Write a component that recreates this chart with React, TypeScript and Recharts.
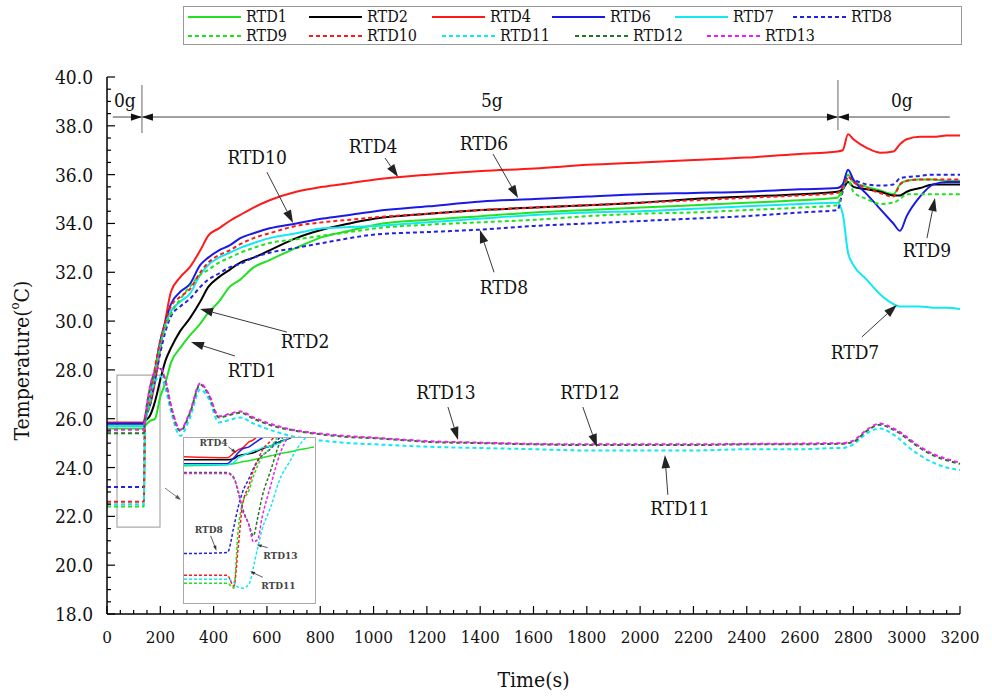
import React from 'react';
import {
  LineChart,
  Line,
  XAxis,
  YAxis,
  Legend,
  ReferenceLine,
  ReferenceDot,
  ReferenceArea,
  Label,
} from 'recharts';

const SERIF = "'DejaVu Serif Condensed', 'DejaVu Serif', serif";
const STRETCH = 'condensed';

// ---------------- main data ----------------
const time = [0, 138, 143, 160, 180, 200, 220, 240, 275, 310, 350, 380, 420, 460, 500, 550, 610, 710, 810, 910, 1007, 1206, 1405, 1604, 1803, 2002, 2201, 2400, 2600, 2740, 2760, 2780, 2800, 2850, 2900, 2950, 2975, 3000, 3050, 3100, 3150, 3200];

const rtd1 = [25.6, 25.6, 25.7, 25.9, 26.0, 26.9, 27.5, 28.3, 28.9, 29.4, 29.9, 30.35, 30.8, 31.4, 31.7, 32.2, 32.5, 33.0, 33.45, 33.7, 33.95, 34.15, 34.3, 34.45, 34.55, 34.65, 34.75, 34.85, 34.95, 35.05, 35.5, 36.0, 35.7, 35.5, 35.35, 35.2, 35.6, 35.75, 35.8, 35.8, 35.75, 35.75];
const rtd2 = [25.8, 25.8, 25.9, 26.1, 26.7, 27.6, 28.4, 28.9, 29.6, 30.1, 30.8, 31.4, 31.8, 32.1, 32.4, 32.6, 32.9, 33.4, 33.75, 34.0, 34.2, 34.4, 34.55, 34.65, 34.75, 34.85, 35.0, 35.1, 35.2, 35.3, 35.4, 35.7, 35.5, 35.4, 35.3, 35.15, 35.15, 35.3, 35.45, 35.6, 35.6, 35.6];
const rtd4 = [25.85, 25.85, 26.1, 26.5, 27.5, 28.9, 30.1, 31.2, 31.8, 32.2, 32.9, 33.5, 33.8, 34.1, 34.35, 34.65, 34.95, 35.3, 35.5, 35.65, 35.8, 36.0, 36.15, 36.25, 36.4, 36.5, 36.6, 36.7, 36.85, 36.95, 37.0, 37.65, 37.45, 37.1, 36.9, 36.95, 37.25, 37.45, 37.55, 37.55, 37.6, 37.6];
const rtd6 = [25.8, 25.8, 26.0, 26.7, 28.0, 29.2, 30.0, 30.7, 31.2, 31.5, 32.3, 32.6, 32.9, 33.1, 33.4, 33.6, 33.8, 34.0, 34.2, 34.35, 34.5, 34.7, 34.9, 35.0, 35.1, 35.2, 35.25, 35.3, 35.4, 35.45, 35.6, 36.2, 35.8, 35.2, 34.6, 34.0, 33.7, 34.3, 35.1, 35.6, 35.7, 35.7];
const rtd7 = [25.7, 25.7, 25.9, 26.6, 27.9, 29.0, 29.9, 30.4, 30.8, 31.1, 31.9, 32.3, 32.6, 32.8, 33.0, 33.2, 33.4, 33.6, 33.8, 33.85, 33.9, 34.05, 34.2, 34.35, 34.45, 34.5, 34.6, 34.7, 34.8, 34.85, 34.4, 32.8, 32.3, 31.7, 31.1, 30.7, 30.6, 30.6, 30.6, 30.55, 30.55, 30.5];
const rtd8 = [23.2, 23.2, 26.0, 26.5, 27.6, 28.7, 29.6, 30.2, 30.6, 30.9, 31.4, 31.7, 31.95, 32.2, 32.35, 32.6, 32.8, 33.0, 33.2, 33.4, 33.55, 33.65, 33.75, 33.9, 34.0, 34.1, 34.2, 34.3, 34.45, 34.55, 35.3, 35.9, 35.8, 35.6, 35.55, 35.6, 35.85, 35.9, 35.95, 36.0, 36.0, 36.0];
const rtd9 = [22.4, 22.4, 25.8, 26.6, 27.9, 29.0, 29.8, 30.3, 30.9, 31.4, 31.9, 32.1, 32.4, 32.6, 32.8, 33.0, 33.2, 33.35, 33.5, 33.65, 33.8, 33.95, 34.05, 34.15, 34.3, 34.4, 34.45, 34.55, 34.65, 34.75, 35.4, 35.8, 35.3, 35.0, 34.8, 34.85, 35.0, 35.2, 35.2, 35.2, 35.2, 35.2];
const rtd10 = [22.6, 22.6, 26.0, 26.8, 28.1, 29.2, 30.0, 30.6, 31.0, 31.3, 32.0, 32.4, 32.7, 32.9, 33.15, 33.4, 33.6, 33.9, 34.05, 34.15, 34.25, 34.4, 34.55, 34.65, 34.75, 34.85, 34.95, 35.05, 35.15, 35.25, 35.5, 35.9, 35.7, 35.45, 35.25, 35.1, 35.6, 35.75, 35.8, 35.8, 35.8, 35.8];
const rtd11 = [22.5, 22.5, 25.8, 26.9, 27.5, 27.75, 27.2, 26.3, 25.3, 26.0, 27.2, 26.85, 25.85, 25.95, 26.05, 25.8, 25.55, 25.25, 25.1, 25.0, 24.95, 24.85, 24.8, 24.75, 24.7, 24.7, 24.7, 24.75, 24.75, 24.8, 24.8, 24.85, 24.95, 25.4, 25.6, 25.35, 25.15, 24.9, 24.5, 24.2, 24.0, 23.9];
const rtd12 = [25.4, 25.4, 26.0, 27.2, 27.9, 28.05, 27.5, 26.5, 25.5, 26.2, 27.4, 27.0, 26.05, 26.15, 26.25, 26.0, 25.75, 25.5, 25.35, 25.25, 25.2, 25.05, 25.0, 24.95, 24.92, 24.92, 24.92, 24.95, 24.95, 24.97, 24.97, 25.0, 25.05, 25.5, 25.75, 25.55, 25.4, 25.2, 24.8, 24.5, 24.3, 24.15];
const rtd13 = [25.55, 25.55, 26.0, 27.25, 27.95, 28.1, 27.55, 26.55, 25.55, 26.25, 27.45, 27.05, 26.1, 26.2, 26.3, 26.05, 25.8, 25.52, 25.38, 25.28, 25.22, 25.08, 25.02, 24.97, 24.95, 24.95, 24.95, 24.97, 24.98, 25.0, 25.0, 25.03, 25.1, 25.55, 25.8, 25.6, 25.45, 25.25, 24.85, 24.55, 24.35, 24.2];

// ---------------- inset (enlarged view) data ----------------
const insetTime = [100, 120, 123, 125, 127, 130, 132, 134, 136, 140, 144, 149, 153, 160];
const iRtd1 = [26.9, 26.95, 27.0, 27.05, 27.1, 27.15, 27.2, 27.25, 27.3, 27.4, 27.5, 27.6, 27.7, 27.85];
const iRtd2 = [27.2, 27.2, 27.25, 27.4, 27.45, 27.5, 27.55, 27.65, 27.75, 27.9, 28.1, 28.3, 28.55, 28.9];
const iRtd4 = [27.35, 27.3, 27.55, 27.7, 27.8, 28.1, 28.2, 28.4, 28.5, 28.75, 29.15, 29.55, 29.9, 30.4];
const iRtd6 = [27.0, 27.0, 27.3, 27.55, 27.75, 27.85, 28.0, 28.15, 28.3, 28.5, 28.8, 29.15, 29.45, 29.9];
const iRtd7 = [26.95, 26.95, 27.05, 27.3, 27.4, 27.55, 27.65, 27.7, 27.8, 27.9, 28.05, 28.35, 28.65, 29.15];
const iRtd8 = [22.45, 22.5, 23.8, 24.8, 25.55, 26.25, 26.75, 27.15, 27.4, 27.75, 28.3, 28.75, 29.15, 29.65];
const iRtd9 = [20.95, 20.95, 20.7, 23.65, 25.0, 25.65, 26.35, 26.9, 27.35, 27.8, 28.5, 29.05, 29.55, 30.05];
const iRtd10 = [21.35, 21.35, 20.8, 22.75, 24.9, 25.9, 26.65, 27.15, 27.65, 28.15, 28.65, 29.15, 29.65, 30.15];
const iRtd11 = [21.15, 21.15, 21.0, 20.75, 20.7, 20.9, 21.75, 22.75, 23.65, 24.8, 26.15, 27.15, 27.9, 28.65];
const iRtd12 = [26.55, 26.55, 26.3, 25.55, 24.75, 23.9, 23.35, 24.25, 25.3, 26.65, 28.0, 28.75, 29.4, 30.15];
const iRtd13 = [26.5, 26.5, 26.25, 25.65, 24.65, 23.9, 23.05, 23.15, 24.25, 25.9, 27.4, 28.55, 29.15, 29.9];

// ---------------- ticks ----------------
const xTicks: number[] = [];
for (let v = 0; v <= 3200; v += 50) xTicks.push(v);
const yTicks: number[] = [];
for (let v = 18; v <= 40.001; v += 0.5) yTicks.push(Math.round(v * 10) / 10);

const DASH = '4 3';
const SERIES = [
  { name: 'RTD1', values: rtd1, inset: iRtd1, color: '#22e022', dash: undefined as string | undefined },
  { name: 'RTD2', values: rtd2, inset: iRtd2, color: '#000000', dash: undefined },
  { name: 'RTD4', values: rtd4, inset: iRtd4, color: '#ff1a1a', dash: undefined },
  { name: 'RTD6', values: rtd6, inset: iRtd6, color: '#1a1ae6', dash: undefined },
  { name: 'RTD7', values: rtd7, inset: iRtd7, color: '#12e8f2', dash: undefined },
  { name: 'RTD8', values: rtd8, inset: iRtd8, color: '#2222e0', dash: DASH },
  { name: 'RTD9', values: rtd9, inset: iRtd9, color: '#22e022', dash: DASH },
  { name: 'RTD10', values: rtd10, inset: iRtd10, color: '#ff1a1a', dash: DASH },
  { name: 'RTD11', values: rtd11, inset: iRtd11, color: '#12e8f2', dash: DASH },
  { name: 'RTD12', values: rtd12, inset: iRtd12, color: '#1f7a1f', dash: DASH },
  { name: 'RTD13', values: rtd13, inset: iRtd13, color: '#f01ef0', dash: DASH },
];

const rows = time.map((t, i) => {
  const r: any = { t };
  SERIES.forEach((s) => (r[s.name] = s.values[i]));
  return r;
});
const insetRows = insetTime.map((t, i) => {
  const r: any = { t };
  SERIES.forEach((s) => (r[s.name] = s.inset[i]));
  return r;
});

// ---------------- annotations (data coordinates) ----------------
const labels = [
  { text: 'RTD4', t: 998, v: 37.17 },
  { text: 'RTD6', t: 1414, v: 37.3 },
  { text: 'RTD10', t: 563, v: 36.72 },
  { text: 'RTD8', t: 1489, v: 31.4 },
  { text: 'RTD2', t: 743, v: 29.18 },
  { text: 'RTD1', t: 544, v: 28.0 },
  { text: 'RTD13', t: 1272, v: 27.1 },
  { text: 'RTD12', t: 1812, v: 27.1 },
  { text: 'RTD11', t: 2149, v: 22.34 },
  { text: 'RTD9', t: 3076, v: 32.91 },
  { text: 'RTD7', t: 2806, v: 28.73 },
  { text: '0g', t: 67, v: 39.06 },
  { text: '5g', t: 1444, v: 39.06 },
  { text: '0g', t: 2982, v: 39.06 },
];
const arrows = [
  { a: [1043, 36.68], b: [1092, 35.9] },
  { a: [1448, 36.85], b: [1542, 35.04] },
  { a: [600, 36.1], b: [698, 34.02] },
  { a: [1452, 32.0], b: [1399, 33.73] },
  { a: [675, 29.55], b: [349, 30.5] },
  { a: [480, 28.57], b: [315, 29.14] },
  { a: [1279, 26.48], b: [1317, 25.13] },
  { a: [1785, 26.48], b: [1838, 24.84] },
  { a: [2104, 22.88], b: [2093, 24.51] },
  { a: [3076, 33.4], b: [3106, 35.04] },
  { a: [2832, 29.35], b: [2963, 30.66] },
];
const phaseLineV = 38.36;
const phaseBounds = [131, 2742];

const insetLabels = [
  { text: 'RTD4', t: 113.6, v: 28.05 },
  { text: 'RTD8', t: 111.4, v: 23.65 },
  { text: 'RTD13', t: 144.5, v: 22.35 },
  { text: 'RTD11', t: 143.6, v: 20.85 },
];
const insetArrows = [
  { a: [120.5, 27.85], b: [124.1, 27.55] },
  { a: [112.3, 23.35], b: [115, 22.6] },
  { a: [138.6, 22.75], b: [133.6, 22.9] },
  { a: [136.4, 21.25], b: [130.5, 21.55] },
];

// legend item start positions (px within legend box)
const legendRows = [SERIES.slice(0, 6), SERIES.slice(6)];
const legendX = [
  [4, 125, 248, 368, 491, 609],
  [4, 125, 258, 391, 523],
];

// ---------------- render helpers ----------------
const arrowShape = (color: string, head: number, width = 1, drawLine = true) => (p: any) => {
  const { x1, y1, x2, y2 } = p;
  const ang = Math.atan2(y2 - y1, x2 - x1);
  const bx = x2 - head * Math.cos(ang);
  const by = y2 - head * Math.sin(ang);
  const hw = head * 0.33;
  const px = -Math.sin(ang) * hw;
  const py = Math.cos(ang) * hw;
  return (
    <g>
      {drawLine && <line x1={x1} y1={y1} x2={bx} y2={by} stroke={color} strokeWidth={width} />}
      <polygon points={`${x2},${y2} ${bx + px},${by + py} ${bx - px},${by - py}`} fill={color} />
    </g>
  );
};

const textShape = (txt: string, size: number, color: string, weight = 'normal') => (p: any) => (
  <text
    x={p.cx}
    y={p.cy}
    textAnchor="middle"
    dominantBaseline="central"
    fontSize={size}
    fontFamily={SERIF}
    fontStretch={STRETCH}
    fontWeight={weight}
    fill={color}
  >
    {txt}
  </text>
);

const XTick = (props: any) => {
  const { x, y, payload } = props;
  const v = payload.value;
  const major = v % 200 === 0;
  return (
    <g>
      <line x1={x} y1={y} x2={x} y2={y - (major ? 8 : 4)} stroke="#000" strokeWidth={1.2} />
      {major && (
        <text x={x} y={y + 23} textAnchor="middle" dominantBaseline="central" fontSize={17} fontFamily={SERIF} fontStretch={STRETCH} fill="#111">
          {v}
        </text>
      )}
    </g>
  );
};

const YTick = (props: any) => {
  const { x, y, payload } = props;
  const v = payload.value;
  const major = Math.abs(v % 2) < 1e-6;
  return (
    <g>
      <line x1={x} y1={y} x2={x + (major ? 8 : 4)} y2={y} stroke="#000" strokeWidth={1.2} />
      {major && (
        <text x={x - 14} y={y} textAnchor="end" dominantBaseline="central" fontSize={19} fontFamily={SERIF} fontStretch={STRETCH} fill="#111">
          {v.toFixed(1)}
        </text>
      )}
    </g>
  );
};

const XLabel = (props: any) => {
  const vb = props.viewBox || {};
  return (
    <text x={vb.x + vb.width / 2} y={vb.y + 66} textAnchor="middle" dominantBaseline="central" fontSize={21} fontFamily={SERIF} fontStretch={STRETCH} fill="#111">
      Time(s)
    </text>
  );
};

const YLabel = (props: any) => {
  const vb = props.viewBox || {};
  const cx = vb.x + 15;
  const cy = vb.y + vb.height / 2 + 15;
  return (
    <text
      x={cx}
      y={cy}
      transform={`rotate(-90 ${cx} ${cy})`}
      textAnchor="middle"
      dominantBaseline="central"
      fontSize={21}
      fontFamily={SERIF}
      fontStretch={STRETCH}
      fill="#111"
    >
      Temperature(
      <tspan dy={-8} fontSize={13}>o</tspan>
      <tspan dy={8}>C)</tspan>
    </text>
  );
};

const LegendBox = () => (
  <div
    style={{
      position: 'relative',
      border: '1.5px solid #999',
      width: 779,
      height: 39,
      boxSizing: 'border-box',
      background: '#fff',
      fontFamily: SERIF,
      fontStretch: STRETCH,
      fontSize: 16,
      color: '#111',
    }}
  >
    {legendRows.map((row, ri) =>
      row.map((s, i) => (
        <div
          key={s.name}
          style={{
            position: 'absolute',
            left: legendX[ri][i],
            top: ri * 19,
            height: 19,
            display: 'flex',
            alignItems: 'center',
            whiteSpace: 'nowrap',
          }}
        >
          <svg width={53} height={6}>
            <line x1={0} y1={3} x2={53} y2={3} stroke={s.color} strokeWidth={2} strokeDasharray={s.dash} />
          </svg>
          <span style={{ marginLeft: 5, lineHeight: '19px' }}>{s.name}</span>
        </div>
      ))
    )}
  </div>
);

export default function App() {
  return (
    <div style={{ position: 'absolute', left: 0, top: 0, width: 992, height: 698, background: '#fff' }}>
      <LineChart width={992} height={698} data={rows} margin={{ top: 77, right: 32, bottom: 14, left: 7 }}>
        <XAxis
          dataKey="t"
          type="number"
          domain={[0, 3200]}
          ticks={xTicks}
          interval={0}
          tick={(p: any) => <XTick {...p} />}
          tickLine={false}
          tickSize={0}
          tickMargin={0}
          height={70}
          axisLine={{ stroke: '#000', strokeWidth: 1.5 }}
        >
          <Label content={XLabel} />
        </XAxis>
        <YAxis
          type="number"
          domain={[18, 40]}
          ticks={yTicks}
          interval={0}
          tick={(p: any) => <YTick {...p} />}
          tickLine={false}
          tickSize={0}
          tickMargin={0}
          width={100}
          axisLine={{ stroke: '#000', strokeWidth: 1.5 }}
        >
          <Label content={YLabel} />
        </YAxis>
        <Legend
          layout="vertical"
          align="center"
          verticalAlign="middle"
          content={LegendBox}
          wrapperStyle={{ left: 183, top: 6, width: 779, height: 39 }}
        />

        <ReferenceArea x1={37.5} x2={198.8} y1={21.56} y2={27.79} fill="none" stroke="#aaa" strokeWidth={1.2} ifOverflow="visible" />
        <ReferenceLine
          segment={[{ x: 217.6, y: 23.16 }, { x: 277.6, y: 22.67 }]}
          ifOverflow="visible"
          shape={arrowShape('#555', 6, 0.8)}
        />

        <ReferenceLine segment={[{ x: 22, y: phaseLineV }, { x: 3162, y: phaseLineV }]} stroke="#444" strokeWidth={1} ifOverflow="visible" />
        <ReferenceLine segment={[{ x: phaseBounds[0], y: 39.67 }, { x: phaseBounds[0], y: 37.71 }]} stroke="#999" strokeWidth={1.5} ifOverflow="visible" />
        <ReferenceLine segment={[{ x: phaseBounds[1], y: 39.88 }, { x: phaseBounds[1], y: 37.83 }]} stroke="#999" strokeWidth={1.5} ifOverflow="visible" />
        <ReferenceLine segment={[{ x: 60, y: phaseLineV }, { x: phaseBounds[0], y: phaseLineV }]} ifOverflow="visible" shape={arrowShape('#111', 11, 1, false)} />
        <ReferenceLine segment={[{ x: 200, y: phaseLineV }, { x: phaseBounds[0], y: phaseLineV }]} ifOverflow="visible" shape={arrowShape('#111', 11, 1, false)} />
        <ReferenceLine segment={[{ x: 2680, y: phaseLineV }, { x: phaseBounds[1], y: phaseLineV }]} ifOverflow="visible" shape={arrowShape('#111', 11, 1, false)} />
        <ReferenceLine segment={[{ x: 2800, y: phaseLineV }, { x: phaseBounds[1], y: phaseLineV }]} ifOverflow="visible" shape={arrowShape('#111', 11, 1, false)} />

        {SERIES.map((s) => (
          <Line
            key={s.name}
            dataKey={s.name}
            type="monotone"
            stroke={s.color}
            strokeWidth={2}
            strokeDasharray={s.dash}
            dot={false}
            activeDot={false}
            isAnimationActive={false}
          />
        ))}

        {arrows.map((a, i) => (
          <ReferenceLine
            key={'ar' + i}
            segment={[{ x: a.a[0], y: a.a[1] }, { x: a.b[0], y: a.b[1] }]}
            ifOverflow="visible"
            shape={arrowShape('#222', 13, 0.9)}
          />
        ))}
        {labels.map((l, i) => (
          <ReferenceDot key={'lb' + i} x={l.t} y={l.v} r={0} ifOverflow="visible" shape={textShape(l.text, 19, '#111')} />
        ))}
      </LineChart>

      <div
        style={{
          position: 'absolute',
          left: 183,
          top: 437,
          width: 133,
          height: 167,
          border: '1.5px solid #aaa',
          boxSizing: 'border-box',
          background: '#fff',
        }}
      >
        <LineChart width={130} height={164} data={insetRows} margin={{ top: 0, right: 0, bottom: 0, left: 0 }}>
          <XAxis dataKey="t" type="number" domain={[100, 160]} hide allowDataOverflow />
          <YAxis type="number" domain={[20, 28.3]} hide allowDataOverflow />
          {SERIES.map((s) => (
            <Line
              key={s.name}
              dataKey={s.name}
              type="monotone"
              stroke={s.color}
              strokeWidth={1.5}
              strokeDasharray={s.dash ? '3 2' : undefined}
              dot={false}
              activeDot={false}
              isAnimationActive={false}
            />
          ))}
          {insetArrows.map((a, i) => (
            <ReferenceLine
              key={'iar' + i}
              segment={[{ x: a.a[0], y: a.a[1] }, { x: a.b[0], y: a.b[1] }]}
              ifOverflow="visible"
              shape={arrowShape('#333', 5, 0.8)}
            />
          ))}
          {insetLabels.map((l, i) => (
            <ReferenceDot key={'ilb' + i} x={l.t} y={l.v} r={0} ifOverflow="visible" shape={textShape(l.text, 10, '#444', 'bold')} />
          ))}
        </LineChart>
      </div>
    </div>
  );
}
